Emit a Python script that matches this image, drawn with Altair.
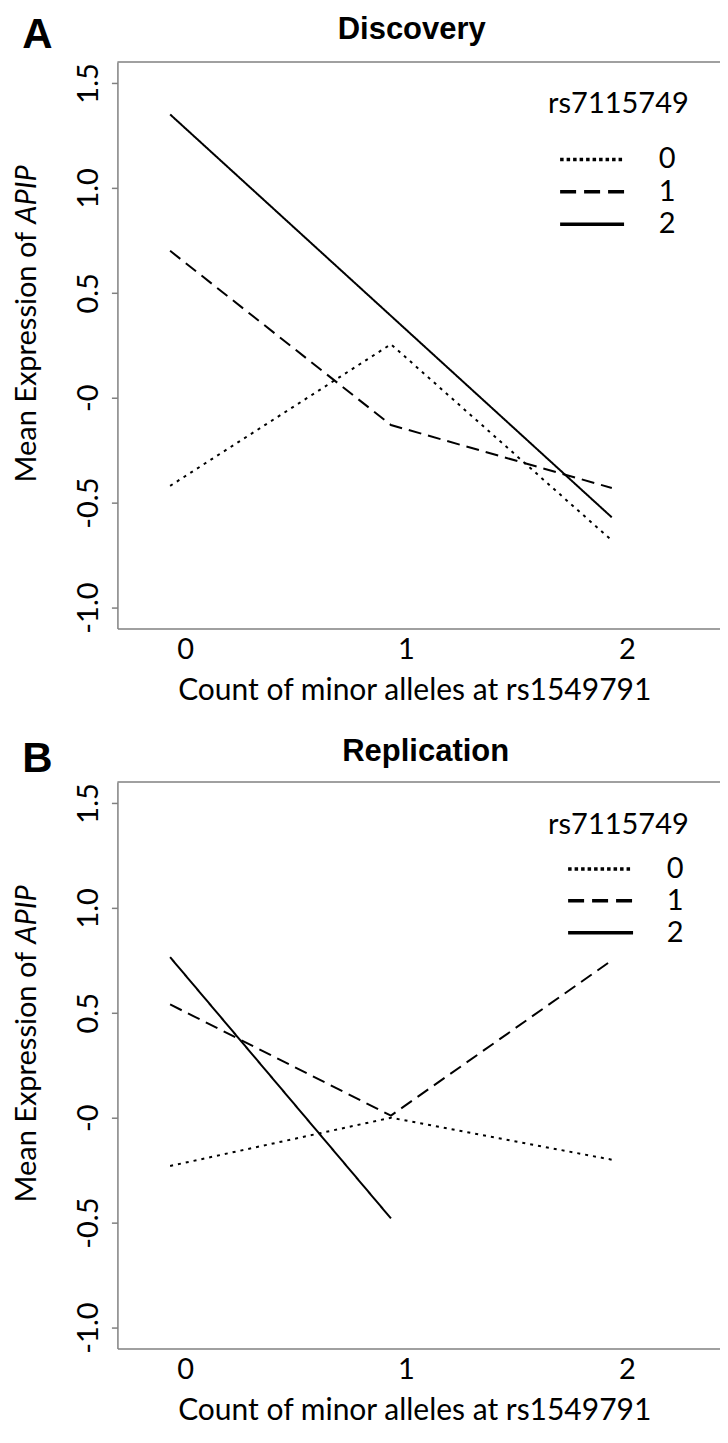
import altair as alt
import pandas as pd

# ---------------- data ----------------
snp_levels = ["0", "1", "2"]          # rs7115749 genotype (line style)
minor_counts = [0, 1, 2]              # count of minor alleles at rs1549791
discovery_snp0 = [-0.42, 0.255, -0.68]
discovery_snp1 = [0.70, -0.13, -0.43]
discovery_snp2 = [1.35, 0.39, -0.57]
replication_snp0 = [-0.23, 0.00, -0.20]
replication_snp1 = [0.54, 0.01, 0.75]
replication_snp2 = [0.765, -0.48, None]
y_ticks = [-1.0, -0.5, 0.0, 0.5, 1.0, 1.5]
x_ticks = [0, 1, 2]
panel_titles = ["Discovery", "Replication"]
panel_letters = ["A", "B"]
legend_title = "rs7115749"
x_title = "Count of minor alleles at rs1549791"
y_title_plain = "Mean Expression of"
y_title_italic = "APIP"

# ---------------- styling ----------------
FONT = "Lato"
BOLD_FONT = "Liberation Sans"
FS = 29
W, H = 610, 567                       # plot box; its right side runs off the picture as in the figure
GRAY = "#808080"
X_DOMAIN = [-0.2386, -0.2386 + 610 / 221.0]
Y_DOMAIN = [-1.1, 1.6]
LINE_DASH = [[3, 5], [13, 7], [1, 0]]
LEGEND_DASH = [[3.5, 3], [16, 8], [1, 0]]


def long_df(series):
    rows = []
    for lvl, vals in zip(snp_levels, series):
        for x, v in zip(minor_counts, vals):
            if v is not None:
                rows.append({"count": x, "mean": v, "snp": lvl})
    return pd.DataFrame(rows)


def text_layer(txt, x, y, font=FONT, **kw):
    return alt.Chart(pd.DataFrame({"t": [txt]})).mark_text(font=font, **kw).encode(
        text="t:N", x=alt.value(x), y=alt.value(y)
    )


def panel(series, title, letter, lay):
    df = long_df(series)
    xs = alt.Scale(domain=X_DOMAIN, nice=False, zero=False)
    ys = alt.Scale(domain=Y_DOMAIN, nice=False, zero=False)

    lines = alt.Chart(df).mark_line(color="black", strokeWidth=2, strokeCap="butt").encode(
        x=alt.X("count:Q", scale=xs,
                axis=alt.Axis(values=x_ticks, format="d", title=x_title, ticks=False, tickSize=0,
                              grid=False, labelOffset=15, labelPadding=7, labelFlush=False,
                              domainColor=GRAY, domainWidth=1.5,
                              labelFont=FONT, labelFontSize=FS, labelColor="black",
                              titleFont=FONT, titleFontSize=30, titleFontWeight="normal",
                              titleColor="black", titlePadding=11, titleX=297)),
        y=alt.Y("mean:Q", scale=ys,
                axis=alt.Axis(values=y_ticks, title=None, grid=False, labelAngle=270,
                              labelAlign="center", labelBaseline="middle",
                              labelExpr="datum.value == 0 ? '-0' : (datum.value < 0 ? '-' + format(-datum.value, '.1f') : format(datum.value, '.1f'))",
                              tickSize=6, tickWidth=1.5, tickColor=GRAY,
                              domainColor=GRAY, domainWidth=1.5, labelPadding=23,
                              labelOverlap=False, labelFlush=False,
                              labelFont=FONT, labelFontSize=FS, labelColor="black")),
        strokeDash=alt.StrokeDash("snp:N",
                                  scale=alt.Scale(domain=snp_levels, range=LINE_DASH),
                                  legend=None),
    )

    top_border = alt.Chart(pd.DataFrame({"k": [0]})).mark_rule(color=GRAY, strokeWidth=1.5).encode(
        x=alt.value(0), x2=alt.value(W), y=alt.value(0)
    )

    layers = [lines, top_border]
    # hand-drawn legend (long line samples, as in the figure)
    for i, lvl in enumerate(snp_levels):
        ry = lay["rows"][i]
        layers.append(
            alt.Chart(pd.DataFrame({"snp": [lvl]})).mark_rule(
                color="black", strokeWidth=3.5, strokeCap="butt", strokeDash=LEGEND_DASH[i]
            ).encode(x=alt.value(lay["lx0"]), x2=alt.value(lay["lx1"]), y=alt.value(ry))
        )
        layers.append(text_layer(lvl, lay["labx"], ry, fontSize=FS, align="center", baseline="middle"))
    layers.append(text_layer(legend_title, lay["tx"], lay["ty"], fontSize=FS, align="left", baseline="middle"))

    layers.append(text_layer(title, lay["title_x"], lay["title_y"], font=BOLD_FONT, fontSize=31,
                             fontWeight="bold", align="center", baseline="middle"))
    layers.append(text_layer(letter, -80, lay["letter_y"], font=BOLD_FONT, fontSize=42,
                             fontWeight="bold", align="center", baseline="middle"))
    layers.append(text_layer(y_title_plain, -90, lay["split"] + 4, fontSize=FS, angle=270,
                             align="right", baseline="middle"))
    layers.append(text_layer(y_title_italic, -90, lay["split"] - 4, fontSize=FS, angle=270,
                             align="left", baseline="middle", fontStyle="italic"))

    return alt.layer(*layers).properties(width=W, height=H)


lay_a = dict(rows=[97.5, 130, 162.5], lx0=443, lx1=507, labx=550, tx=431, ty=42.5,
             title_x=294.5, title_y=-32, letter_y=-27, split=166)
lay_b = dict(rows=[87, 119, 151], lx0=451, lx1=516, labx=558, tx=431, ty=43,
             title_x=308.5, title_y=-29.5, letter_y=-23, split=166)

pa = panel([discovery_snp0, discovery_snp1, discovery_snp2], panel_titles[0], panel_letters[0], lay_a)
pb = panel([replication_snp0, replication_snp1, replication_snp2], panel_titles[1], panel_letters[1], lay_b)

# negative right padding: the right side of the box falls outside the drawing, as in the cropped figure
chart = alt.vconcat(pa, pb, spacing=153.5, bounds="flush").properties(
    padding={"left": 5.5, "top": 5.5, "right": -8, "bottom": 0}
).configure_view(stroke="transparent", strokeWidth=0)

chart.save("out.html", embed_options={"renderer": "svg", "actions": False})
